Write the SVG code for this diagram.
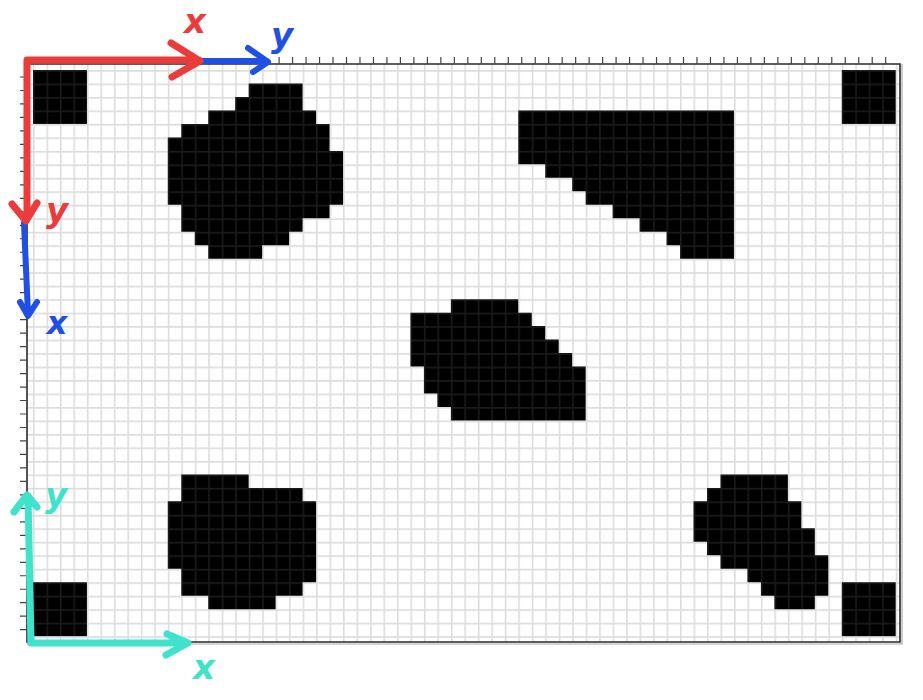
<svg xmlns="http://www.w3.org/2000/svg" width="923" height="700" viewBox="0 0 923 700">
<style>
.obs{fill:#000}
.ax{fill:none;stroke-linecap:round;stroke-linejoin:round}
.red{stroke:#ec3b3b;stroke-width:7}
.blue{stroke:#1f4fe4;stroke-width:6}
.teal{stroke:#3fe3cb;stroke-width:7}
.lbl{font-family:"DejaVu Sans","Liberation Sans",sans-serif;font-weight:bold;font-style:italic;text-anchor:middle}
</style>
<defs>
<pattern id="grid" x="33" y="70" width="13.48" height="13.48" patternUnits="userSpaceOnUse">
<path d="M0 0.8H13.48M0.8 0V13.48" stroke="#6f6f6f" stroke-width="1.6" fill="none"/>
</pattern>
</defs>
<rect width="923" height="700" fill="#fff"/>
<g id="map-frame">
<rect x="27" y="64" width="873" height="578" fill="#fff"/>
</g>
<g id="obstacles" transform="translate(33 70) scale(13.48)">
<g id="corner-tl"><rect class="obs" x="0" y="0" width="4" height="4"/></g>
<g id="corner-tr"><rect class="obs" x="60" y="0" width="4" height="4"/></g>
<g id="corner-bl"><rect class="obs" x="0" y="38" width="4" height="4"/></g>
<g id="corner-br"><rect class="obs" x="60" y="38" width="4" height="4"/></g>
<g id="obstacle-1"><path class="obs" d="M16 1H20V3H21V4H22V6H23V10H22V11H20V12H19V13H17V14H13V13H12V12H11V10H10V5H11V4H13V3H15V2H16Z"/></g>
<g id="obstacle-2"><path class="obs" d="M36 3H52V14H48V13H47V12H45V11H43V10H41V9H40V8H38V7H36Z"/></g>
<g id="obstacle-3"><path class="obs" d="M31 17H36V18H37V19H38V20H39V21H40V22H41V26H31V25H30V24H29V22H28V18H31Z"/></g>
<g id="obstacle-4"><path class="obs" d="M11 30H16V31H20V32H21V38H20V39H18V40H13V39H11V37H10V32H11Z"/></g>
<g id="obstacle-5"><path class="obs" d="M51 30H56V32H57V34H58V36H59V39H58V40H55V39H54V38H53V37H51V36H50V35H49V32H50V31H51Z"/></g>
</g>
<g id="grid-lines">
<rect x="27" y="64" width="873" height="578" fill="url(#grid)" opacity="0.24"/>
</g>
<g id="frame-lines" fill="none" stroke="#2a2a2a">
<path d="M27 64H900V642H27Z" stroke-width="1.6"/>
<path d="M902 64V644H27" stroke="#aaa" stroke-width="1.2"/>
<path stroke-width="1.2" stroke="#444" d="M279.1 57v7m13.48-7v7m13.48-7v7m13.48-7v7m13.48-7v7m13.48-7v7m13.48-7v7m13.48-7v7m13.48-7v7m13.48-7v7m13.48-7v7m13.48-7v7m13.48-7v7m13.48-7v7m13.48-7v7m13.48-7v7m13.48-7v7m13.48-7v7m13.48-7v7m13.48-7v7m13.48-7v7m13.48-7v7m13.48-7v7m13.48-7v7m13.48-7v7m13.48-7v7m13.48-7v7m13.48-7v7m13.48-7v7m13.48-7v7m13.48-7v7m13.48-7v7m13.48-7v7m13.48-7v7m13.48-7v7m13.48-7v7m13.48-7v7m13.48-7v7m13.48-7v7m13.48-7v7m13.48-7v7m13.48-7v7m13.48-7v7m13.48-7v7m13.48-7v7m13.48-7v7"/>
<path stroke-width="1.2" stroke="#444" d="M20 77h7m-7 13.48h7m-7 13.48h7m-7 13.48h7m-7 13.48h7m-7 13.48h7m-7 13.48h7m-7 13.48h7m-7 13.48h7m-7 13.48h7m-7 13.48h7m-7 13.48h7m-7 13.48h7m-7 13.48h7m-7 13.48h7m-7 13.48h7m-7 13.48h7m-7 13.48h7m-7 13.48h7m-7 13.48h7m-7 13.48h7m-7 13.48h7m-7 13.48h7m-7 13.48h7m-7 13.48h7m-7 13.48h7m-7 13.48h7m-7 13.48h7m-7 13.48h7m-7 13.48h7m-7 13.48h7m-7 13.48h7m-7 13.48h7m-7 13.48h7m-7 13.48h7m-7 13.48h7m-7 13.48h7m-7 13.48h7m-7 13.48h7m-7 13.48h7m-7 13.48h7m-7 13.48h7"/>
</g>
<g id="connectors">
<g id="axes-blue">
<path class="ax blue" d="M200 61H267M248 48L268 62L253 72"/>
<path class="ax blue" d="M24 223L28 314M20 302L28 316L37 302"/>
</g>
<g id="axes-red">
<path class="ax red" d="M27 218V60H199M171 43L200 61L172 77"/>
<path class="ax red" d="M12 204L26 221L37 203"/>
</g>
<g id="axes-teal">
<path class="ax teal" d="M28 496L31 643H187M14 512L27 495L37 507M167 634L188 643L166 655"/>
</g>
</g>
<g id="labels">
<text class="lbl" x="195" y="33" font-size="34" fill="#ec3b3b">x</text>
<text class="lbl" x="282" y="47" font-size="34" fill="#1f4fe4">y</text>
<text class="lbl" x="57" y="222" font-size="34" fill="#ec3b3b">y</text>
<text class="lbl" x="57" y="334" font-size="32" fill="#1f4fe4">x</text>
<text class="lbl" x="56" y="507" font-size="34" fill="#3fe3cb">y</text>
<text class="lbl" x="204" y="679" font-size="34" fill="#3fe3cb">x</text>
</g>
</svg>
